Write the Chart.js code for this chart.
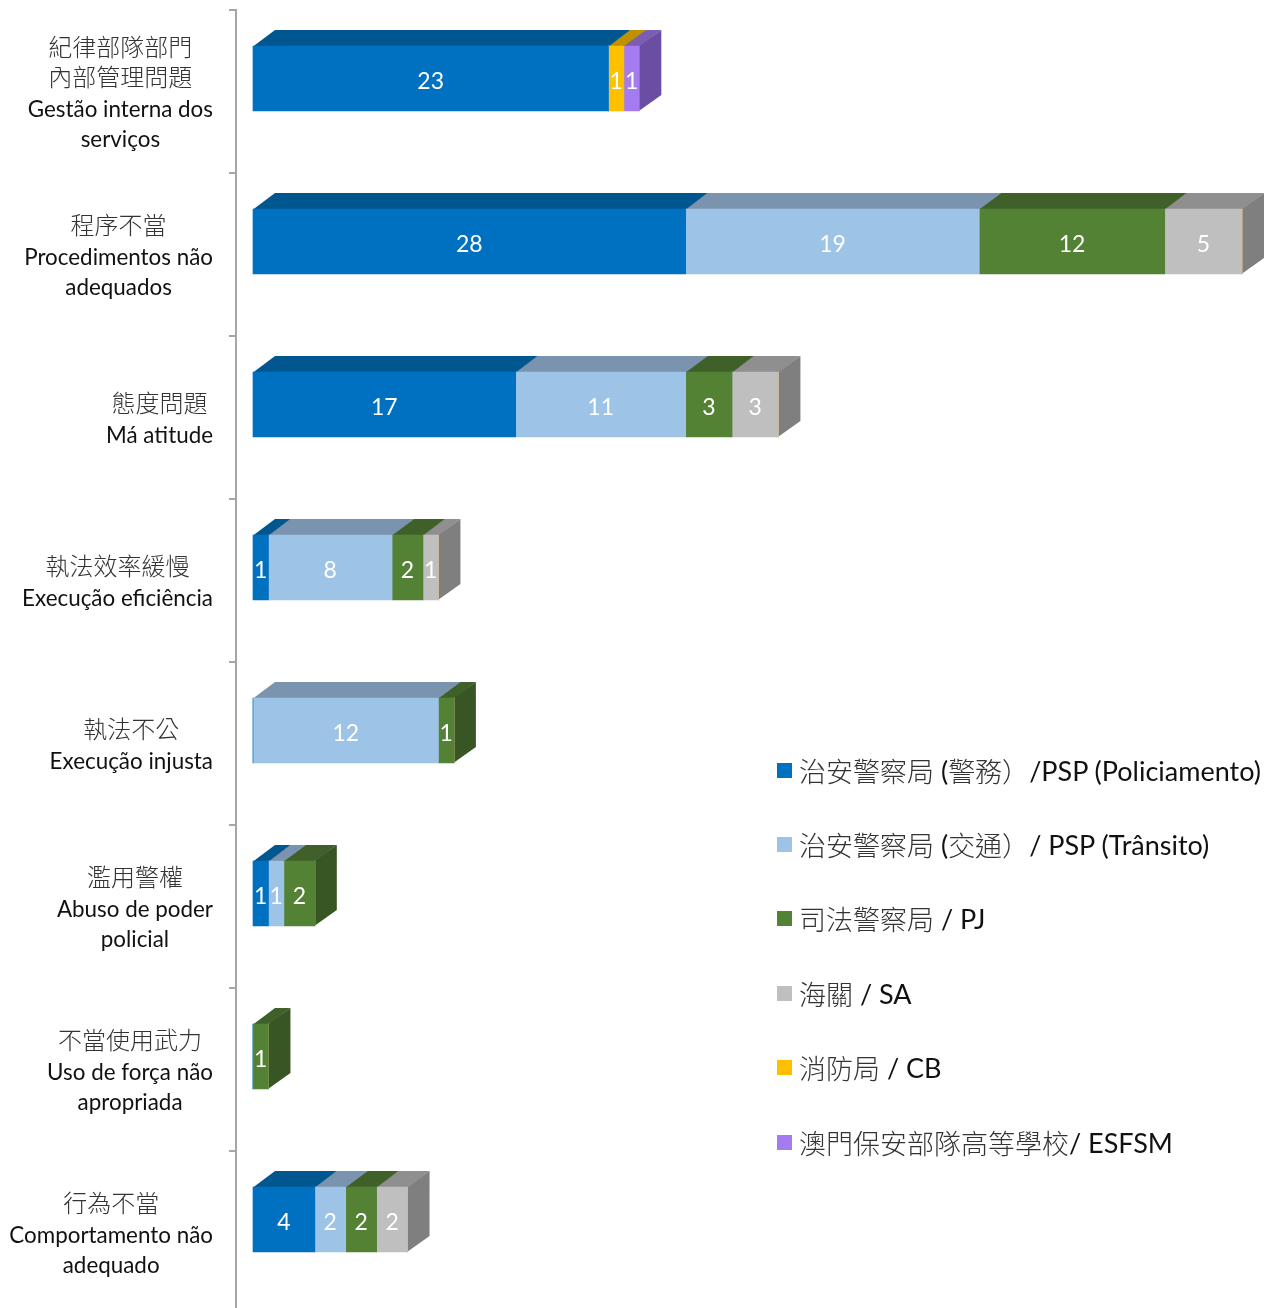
<!DOCTYPE html>
<html>
<head>
<meta charset="utf-8">
<script src="https://cdn.jsdelivr.net/npm/chart.js@4.4.1/dist/chart.umd.min.js"></script>
<style>
    body { margin: 0; background: #fff; overflow: hidden; }
    #wrap { position: relative; width: 1274px; height: 1320px; }
    #legenda { position: absolute; left: 777px; top: 733px; font-family: Lato, "Noto Sans CJK TC", sans-serif; font-size: 27px; color: #111; }
    .item { height: 74.4px; display: flex; align-items: center; white-space: nowrap; }
    .quadrado { width: 15px; height: 15px; margin-right: 7px; flex: none; }
    .cjk { font-family: "Noto Sans CJK TC", sans-serif; font-weight: 300; color: #333; }
</style>
</head>
<body>
<div id="wrap">
    <canvas id="grafico"></canvas>
    <div id="legenda"></div>
</div>
<script>
const categorias = [
    ['紀律部隊部門', '內部管理問題', 'Gestão interna dos', 'serviços'],
    ['程序不當', 'Procedimentos não', 'adequados'],
    ['態度問題', 'Má atitude'],
    ['執法效率緩慢', 'Execução eficiência'],
    ['執法不公', 'Execução injusta'],
    ['濫用警權', 'Abuso de poder', 'policial'],
    ['不當使用武力', 'Uso de força não', 'apropriada'],
    ['行為不當', 'Comportamento não', 'adequado']
];

const nomesSeries = [
    '治安警察局 (警務）/PSP (Policiamento)',
    '治安警察局 (交通）/ PSP (Trânsito)',
    '司法警察局 / PJ',
    '海關 / SA',
    '消防局 / CB',
    '澳門保安部隊高等學校/ ESFSM'
];

const pspPoliciamento = [23, 28, 17, 1, 0, 1, 0, 4];
const pspTransito = [0, 19, 11, 8, 12, 1, 0, 2];
const pj = [0, 12, 3, 2, 1, 2, 1, 2];
const sa = [0, 5, 3, 1, 0, 0, 0, 2];
const cb = [1, 0, 0, 0, 0, 0, 0, 0];
const esfsm = [1, 0, 0, 0, 0, 0, 0, 0];

const coresFrente = ['#0070C0', '#9DC3E6', '#548235', '#BFBFBF', '#FFC000', '#A57CF0'];
const coresTopo = ['#00568F', '#7A93AE', '#3F6129', '#8F8F8F', '#BF9000', '#7C5DB4'];
const coresLado = ['#004A7D', '#6B8299', '#375623', '#7F7F7F', '#A67D00', '#6A4EA3'];

const PROF_X = 22;
const PROF_Y = 16;
const DESLOC_Y = 13;

const series = [pspPoliciamento, pspTransito, pj, sa, cb, esfsm];

const cubo3d = {
    id: 'cubo3d',
    beforeDatasetsDraw(chart) {
        const ctx = chart.ctx;
        ctx.save();
        ctx.translate(0, -DESLOC_Y);
        for (let c = 0; c < categorias.length; c++) {
            for (let d = 0; d < series.length; d++) {
                if (!series[d][c]) continue;
                const bar = chart.getDatasetMeta(d).data[c];
                const x0 = bar.base;
                const x1 = bar.x;
                const topo = bar.y - bar.height / 2;
                const base = bar.y + bar.height / 2;

                ctx.fillStyle = coresLado[d];
                ctx.beginPath();
                ctx.moveTo(x1 - 0.5, topo);
                ctx.lineTo(x1 + PROF_X, topo - PROF_Y);
                ctx.lineTo(x1 + PROF_X, base - PROF_Y);
                ctx.lineTo(x1 - 0.5, base);
                ctx.closePath();
                ctx.fill();

                ctx.fillStyle = coresTopo[d];
                ctx.beginPath();
                ctx.moveTo(x0, topo + 0.5);
                ctx.lineTo(x1, topo + 0.5);
                ctx.lineTo(x1 + PROF_X, topo - PROF_Y);
                ctx.lineTo(x0 + PROF_X, topo - PROF_Y);
                ctx.closePath();
                ctx.fill();
            }
        }
    },
    afterDatasetsDraw(chart) {
        const ctx = chart.ctx;
        ctx.font = '23px Lato, sans-serif';
        ctx.fillStyle = '#fff';
        ctx.textAlign = 'center';
        ctx.textBaseline = 'middle';
        for (let d = 0; d < series.length; d++) {
            const meta = chart.getDatasetMeta(d);
            for (let c = 0; c < categorias.length; c++) {
                if (!series[d][c]) continue;
                const bar = meta.data[c];
                ctx.fillText(series[d][c], (bar.base + bar.x) / 2, bar.y + 3);
            }
        }
        ctx.restore();
    },
    afterDraw(chart) {
        const ctx = chart.ctx;
        const escala = chart.scales.y;
        ctx.save();
        ctx.textAlign = 'center';
        ctx.textBaseline = 'middle';
        for (let c = 0; c < categorias.length; c++) {
            const linhas = categorias[c];
            let larguraMax = 0;
            for (let i = 0; i < linhas.length; i++) {
                ctx.font = fonteLinha(linhas[i]);
                larguraMax = Math.max(larguraMax, ctx.measureText(linhas[i]).width);
            }
            const centroX = 213 - larguraMax / 2;
            const centroY = escala.getPixelForValue(c) + 1.5;
            const primeira = centroY - (linhas.length - 1) * 15;
            for (let i = 0; i < linhas.length; i++) {
                ctx.font = fonteLinha(linhas[i]);
                const cjk = ehCjk(linhas[i]);
                ctx.fillStyle = cjk ? '#333' : '#111';
                ctx.fillText(linhas[i], centroX, primeira + i * 30 + (cjk ? -1 : 2));
            }
        }
        ctx.restore();
    }
};

function ehCjk(texto) {
    return /[\u3000-\u9fff\uff00-\uffef]/.test(texto);
}

function fonteLinha(texto) {
    return ehCjk(texto) ? '300 24px "Noto Sans CJK TC", sans-serif' : '22.4px Lato, sans-serif';
}

function montarLegenda() {
    const legenda = document.getElementById('legenda');
    for (let i = 0; i < nomesSeries.length; i++) {
        const partes = nomesSeries[i].split(/([\u3000-\u9fff\uff00-\uffef]+)/);
        let html = '';
        for (let p = 0; p < partes.length; p++) {
            if (!partes[p]) continue;
            if (ehCjk(partes[p])) {
                html += `<span class="cjk">${partes[p]}</span>`;
            } else {
                html += `<span>${partes[p].replace(/ /g, '&nbsp;')}</span>`;
            }
        }
        legenda.innerHTML +=
            `<div class="item">
                <div class="quadrado" style="background:${coresFrente[i]}"></div>${html}
            </div>`;
    }
}

const datasets = [];
for (let d = 0; d < series.length; d++) {
    datasets.push({
        label: nomesSeries[d],
        data: series[d],
        backgroundColor: coresFrente[d],
        borderWidth: 0,
        barThickness: 65
    });
}

new Chart(document.getElementById('grafico'), {
    type: 'bar',
    data: {
        labels: categorias,
        datasets: datasets
    },
    options: {
        indexAxis: 'y',
        responsive: true,
        maintainAspectRatio: false,
        animation: false,
        layout: { padding: { top: 10, bottom: 6, left: 0, right: 0 } },
        plugins: {
            legend: { display: false },
            tooltip: { enabled: false }
        },
        scales: {
            x: {
                stacked: true,
                display: false,
                min: -1.1,
                max: 66.07
            },
            y: {
                stacked: true,
                ticks: { display: false },
                grid: {
                    offset: true,
                    drawOnChartArea: false,
                    tickLength: 7,
                    color: '#A6A6A6',
                    lineWidth: 2
                },
                border: { color: '#A6A6A6', width: 2 },
                afterFit(scale) {
                    scale.width = 236;
                }
            }
        }
    },
    plugins: [cubo3d]
});

montarLegenda();
</script>
</body>
</html>
